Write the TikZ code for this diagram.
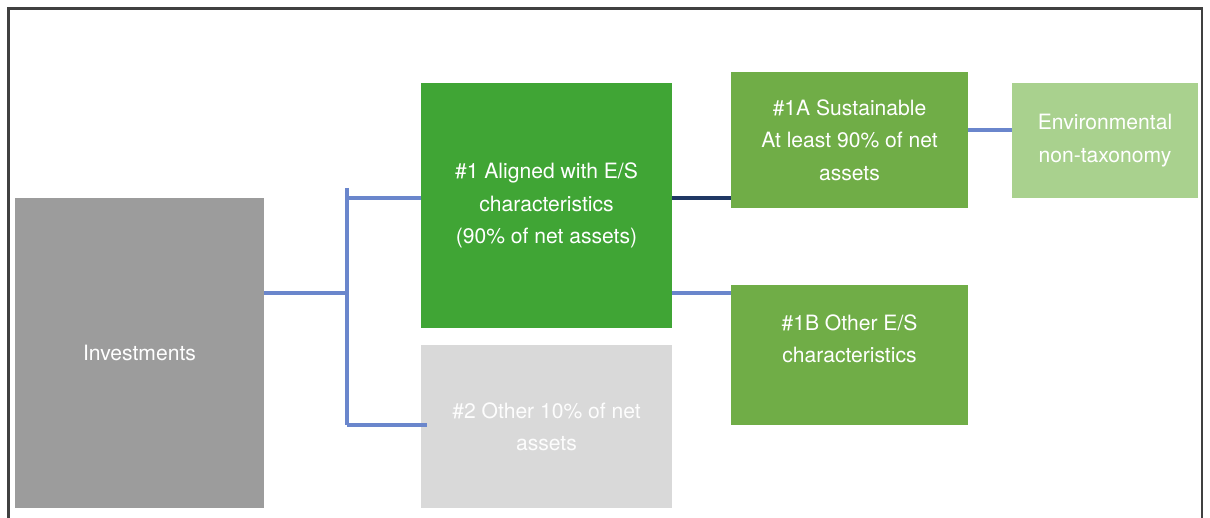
\documentclass[tikz,border=0pt]{standalone}
\usepackage{fontspec}
\setmainfont{TeX Gyre Heros}
\usepackage{tikz}
\usetikzlibrary{calc,positioning}
\definecolor{invgrau}{RGB}{156,156,156}
\definecolor{hellgrau}{RGB}{217,217,217}
\definecolor{gruen}{RGB}{64,165,53}
\definecolor{mittelgruen}{RGB}{112,173,71}
\definecolor{hellgruen}{RGB}{169,209,142}
\definecolor{linienblau}{RGB}{106,134,204}
\definecolor{dunkelblau}{RGB}{32,56,100}
\definecolor{rahmen}{RGB}{64,64,64}

\begin{document}
\begin{tikzpicture}[x=0.025cm,y=-0.025cm,
  box/.style={rectangle,inner sep=0pt,align=center,text=white,
    font=\fontsize{15}{23}\selectfont},
  link/.style={linienblau,line width=2.4pt},
  darklink/.style={dunkelblau,line width=2.4pt}]
\useasboundingbox (0,0) rectangle (1210,518);
%Rahmen, unten offen
\draw[rahmen,line width=2pt] (8.5,518) -- (8.5,8.5) -- (1202,8.5) -- (1202,518);
%Kaesten
\node[box,fill=invgrau,minimum width=6.225cm,minimum height=7.75cm] (inv) at (139.5,353) {Investments};
\node[box,fill=gruen,minimum width=6.275cm,minimum height=6.125cm] (al) at (546.5,205.5) {\#1 Aligned with E/S\\characteristics\\(90\% of net assets)};
\node[box,fill=hellgrau,text=white!95!hellgrau,minimum width=6.275cm,minimum height=4.075cm] (oth) at (546.5,426.5) {\#2 Other 10\% of net\\assets};
\node[box,fill=mittelgruen,minimum width=5.925cm,minimum height=3.4cm] (sa) at (849.5,140) {\#1A Sustainable\\At least 90\% of net\\assets};
\node[box,fill=mittelgruen,minimum width=5.925cm,minimum height=3.5cm] (ob) at (849.5,355) {\#1B Other E/S\\characteristics\\~};
\node[box,fill=hellgruen,minimum width=4.65cm,minimum height=2.875cm] (env) at (1105,140.5) {Environmental\\non-taxonomy};
%Verbindungen
\coordinate (fork) at (347,293);
\coordinate (j1) at (347,198);
\coordinate (j2) at (347,425);
\coordinate (e1) at (968,130);
\draw[link] (inv.east |- fork) -- (fork);
\draw[link] (347,188) -- (j2);
\draw[link] (j1) -- (j1 -| al.west);
\draw[link] (j2) -- ($(j2 -| oth.west)+(6,0)$);
\draw[darklink] (al.east |- j1) -- (sa.west |- j1);
\draw[link] (al.east |- fork) -- (ob.west |- fork);
\draw[link] (e1) -- (e1 -| env.west);
\end{tikzpicture}
\end{document}
